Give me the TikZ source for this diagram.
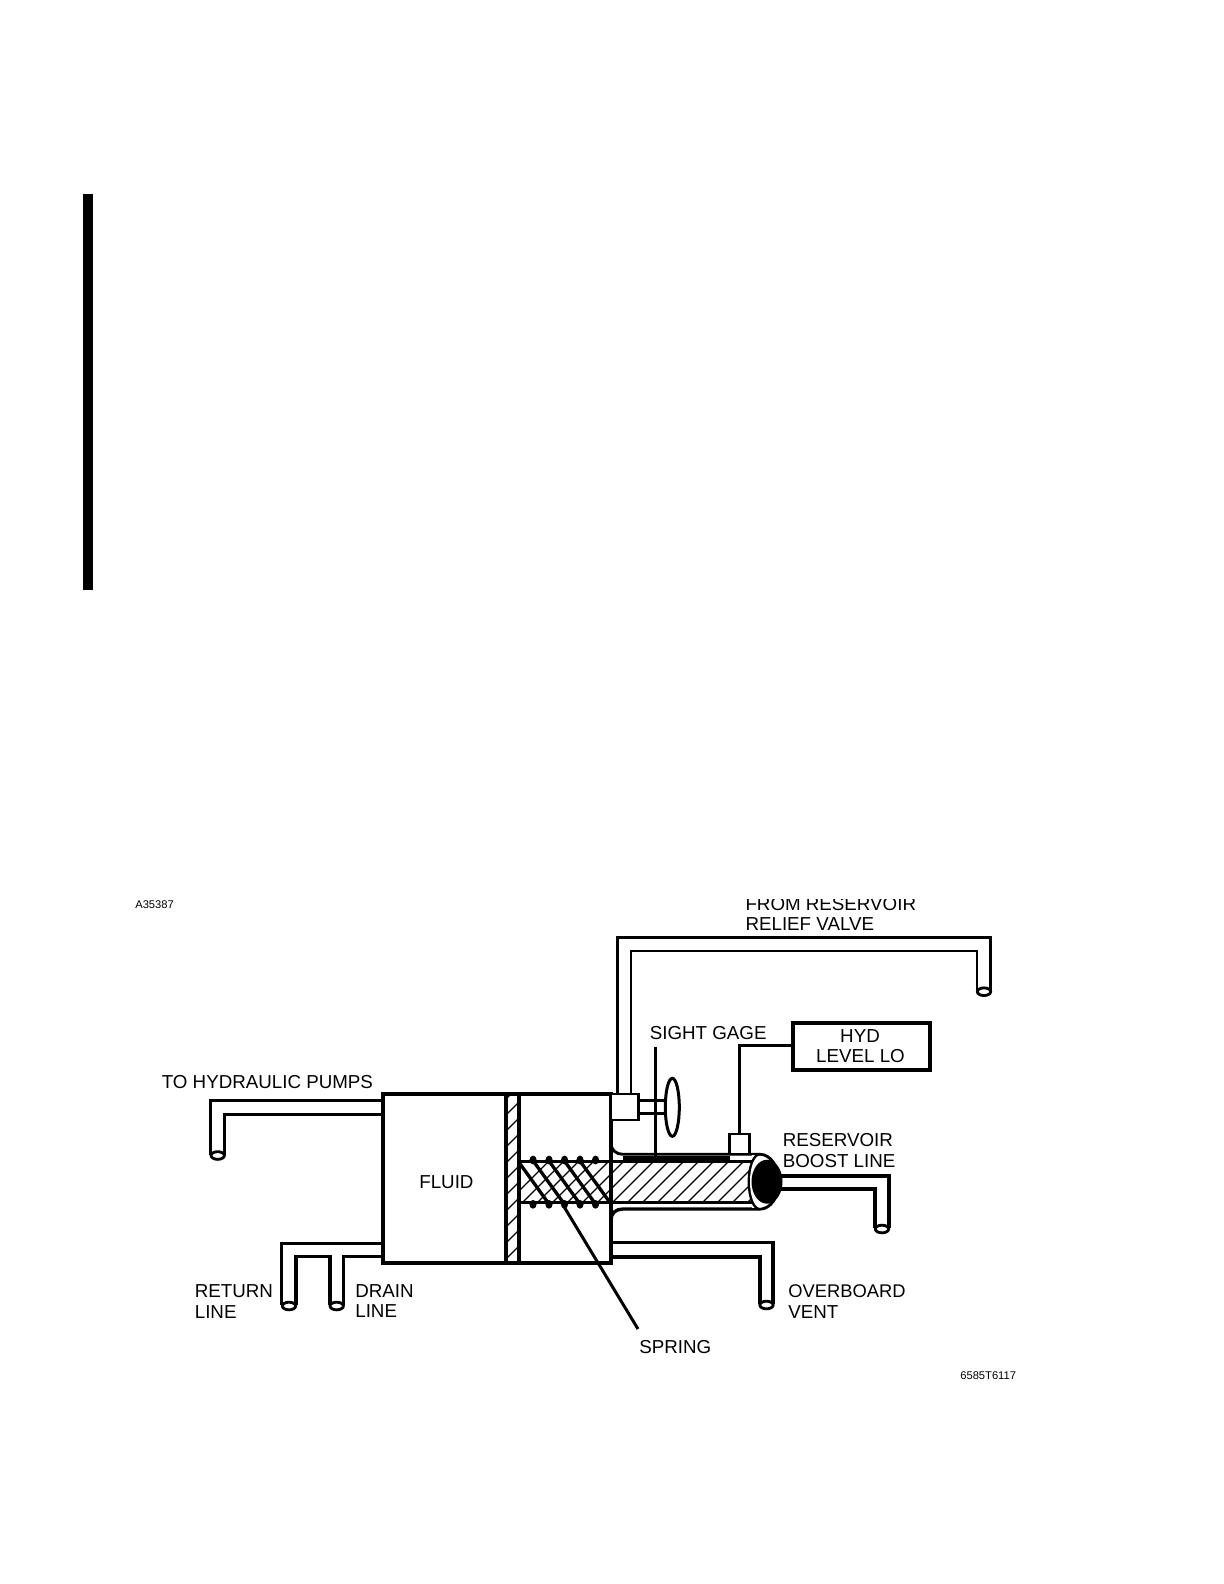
\documentclass[tikz,border=0pt]{standalone}
\usepackage{fontspec}
\setmainfont{Liberation Sans}
\tikzset{
  ln/.style={line width=1.7pt,line join=miter},
  pipeln/.style={line width=2pt,line join=miter},
  hatchln/.style={line width=0.7pt},
  lab/.style={anchor=base west,inner sep=0pt,font=\fontsize{11.25}{13}\selectfont},
  tiny/.style={anchor=base west,inner sep=0pt,font=\fontsize{6.7}{8}\selectfont},
  portend/.style={draw,fill=white,line width=1.7pt,ellipse,minimum width=8pt,minimum height=4.6pt,inner sep=0pt}
}
\usetikzlibrary{shapes.geometric}
\begin{document}
\begin{tikzpicture}[x=0.6pt,y=-0.6pt]
\useasboundingbox (0,0) rectangle (1224,1584);
% change bar
\fill[black] (83,194) rectangle (93,590);
% named points
\coordinate (resTL) at (383,1094);
\coordinate (resBR) at (611,1263);
% fillets / cylinder shell
\draw[ln] (611,1143) .. controls (611,1150) and (616,1154.3) .. (623,1154.3) -- (760,1154.3);
\draw[pipeln] (611,1220) .. controls (611,1213) and (616,1209) .. (623,1209) -- (760,1209);
% hatching of cylinder
\begin{scope}
\clip (519,1161.7) rectangle (752,1202.3);
\foreach \k in {0,15,...,300}{ \draw[hatchln] (500+\k,1210) -- (560+\k,1150); }
\end{scope}
\draw[ln] (519,1161.7) -- (752,1161.7);
\draw[pipeln] (519,1202.3) -- (752,1202.3);
\fill (623,1156) rectangle (730,1160);
% spring coils
\foreach \xx/\i in {533/a,549/b,564.5/c,580/d,595.5/e}{
  \fill (\xx,1160) ellipse [x radius=3.6,y radius=4.4];
  \fill (\xx,1204.3) ellipse [x radius=3.6,y radius=4.4];
}
\draw[pipeln] (519,1161.7) -- (611,1161.7);
\draw[pipeln] (519,1202.3) -- (611,1202.3);
\begin{scope}
\clip (519,1155) rectangle (611,1208);
\foreach \xx in {518,533.3,549,564.5,580}{ \draw[line width=2pt] (\xx,1161) -- (\xx+31,1204); }
\end{scope}
% reservoir
\draw[ln,line width=1.9pt] (resTL) rectangle (resBR);
% piston wall
\begin{scope}
\clip (506,1094) rectangle (519,1263);
\foreach \k in {0,16,...,200}{ \draw[hatchln] (495,1110+\k) -- (530,1075+\k); }
\end{scope}
\draw[pipeln] (506,1094) -- (506,1263) (519,1094) -- (519,1263);
\node[lab] (fluid) at (419,1188) {FLUID};
% pump pipe
\node[portend] (pumpend) at (217.7,1155.5) {};
\draw[pipeln] (383,1100.7) -- (210.7,1100.7) -- (210.7,1155);
\draw[pipeln] (383,1114.7) -- (224.7,1114.7) -- (224.7,1155);
% return & drain
\node[portend] (retend) at (289,1306) {};
\node[portend] (drnend) at (336.7,1306) {};
\draw[pipeln] (383,1243.3) -- (281.7,1243.3) -- (281.7,1305);
\draw[pipeln] (296,1305) -- (296,1256.7) -- (330,1256.7) -- (330,1305);
\draw[pipeln] (343.3,1305) -- (343.3,1256.7) -- (383,1256.7);
% relief pipe
\node[portend] (relend) at (984,991.7) {};
\draw[pipeln] (617.3,1094) -- (617.3,937.7) -- (990.7,937.7) -- (990.7,991);
\draw[ln,line width=1.4pt] (630.7,1094) -- (630.7,951) -- (977.3,951) -- (977.3,991);
% sight gage
\node[draw,line width=1.7pt,fill=white,minimum width=16.4pt,minimum height=15.6pt,inner sep=0pt] (valve) at (624.5,1107) {};
\draw[ln] (638.3,1100.7) -- (665,1100.7) (638.3,1113.3) -- (665,1113.3);
\draw[ln] (655.7,1046.5) -- (655.7,1157);
\draw[ln,line width=1.8pt,fill=white] (672.3,1107.3) ellipse [x radius=7,y radius=29];
% overboard vent
\node[portend] (ovbend) at (766.5,1305) {};
\draw[pipeln] (611,1242.3) -- (773,1242.3) -- (773,1304);
\draw[pipeln] (611,1257) -- (760,1257) -- (760,1304);
% boost line
\node[portend] (bstend) at (882,1229) {};
\draw[pipeln] (770,1176) -- (889,1176) -- (889,1228);
\draw[pipeln] (770,1189) -- (875,1189) -- (875,1228);
% cylinder end
\fill[white] (752,1155) rectangle (760,1208);
\draw[ln] (760,1154.3) arc[start angle=-90,end angle=-270,x radius=11,y radius=27.4];
\draw[ln] (760,1154.3) arc[start angle=-90,end angle=90,x radius=19,y radius=27.4];
\fill[white] (760,1181.7) ellipse [x radius=10,y radius=26];
\fill[black] (767,1181.7) ellipse [x radius=15.5,y radius=22];
% level switch
\node[draw,line width=1.7pt,fill=white,minimum width=12.4pt,minimum height=12pt,inner sep=0pt] (switch) at (739.5,1144) {};
\node[draw,line width=2pt,minimum width=82.2pt,minimum height=28.2pt,inner sep=0pt] (hyd) at (861.5,1046.5) {};
\draw[ln] (switch.north) -- (739.5,1045.7) -- (hyd.west |- 739.5,1045.7);
% spring pointer
\coordinate (sprtip) at (563,1205);
\coordinate (sprend) at (638,1329);
\draw[ln,line width=1.8pt] (sprtip) -- (sprend);
% labels
\node[tiny] (t1) at (135,908.7) {A35387};
\node[tiny] (t2) at (960,1379) {6585T6117};
\node[lab] (t3) at (161.5,1088) {TO HYDRAULIC PUMPS};
\begin{scope}
\clip (700,899.5) rectangle (950,940);
\node[lab] (t4) at (745.2,910.7) {FROM RESERVOIR};
\end{scope}
\node[lab] (t5) at (745.2,930) {RELIEF VALVE};
\node[lab] (t6) at (649.5,1039) {SIGHT GAGE};
\node[lab,anchor=base] (t7) at (860,1042.7) {HYD};
\node[lab,anchor=base] (t8) at (860.5,1062.7) {LEVEL LO};
\node[lab] (t9) at (782.5,1146.7) {RESERVOIR};
\node[lab] (t10) at (782.5,1167) {BOOST LINE};
\node[lab] (t11) at (194.5,1297.7) {RETURN};
\node[lab] (t12) at (194.5,1318) {LINE};
\node[lab] (t13) at (355,1297.5) {DRAIN};
\node[lab] (t14) at (355,1317.5) {LINE};
\node[lab,font=\fontsize{11}{13}\selectfont] (t15) at (788,1297.5) {OVERBOARD};
\node[lab] (t16) at (788,1318) {VENT};
\node[lab] (t17) at (639,1353) {SPRING};
\end{tikzpicture}
\end{document}
